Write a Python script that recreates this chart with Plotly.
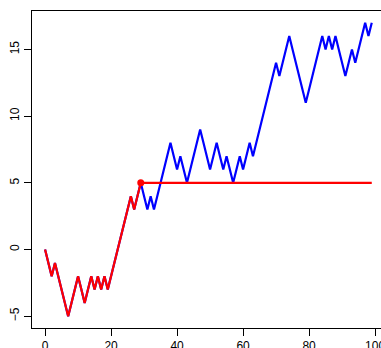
import plotly.graph_objects as go

# Data
steps = list(range(100))
walk = [0, -1, -2, -1, -2, -3, -4, -5, -4, -3,
        -2, -3, -4, -3, -2, -3, -2, -3, -2, -3,
        -2, -1, 0, 1, 2, 3, 4, 3, 4, 5,
        4, 3, 4, 3, 4, 5, 6, 7, 8, 7,
        6, 7, 6, 5, 6, 7, 8, 9, 8, 7,
        6, 7, 8, 7, 6, 7, 6, 5, 6, 7,
        6, 7, 8, 7, 8, 9, 10, 11, 12, 13,
        14, 13, 14, 15, 16, 15, 14, 13, 12, 11,
        12, 13, 14, 15, 16, 15, 16, 15, 16, 15,
        14, 13, 14, 15, 14, 15, 16, 17, 16, 17]
stopped = walk[:30] + [5] * 70
stop_x = [29]
stop_y = [5]
x_ticks = [0, 20, 40, 60, 80, 100]
y_ticks = [-5, 0, 5, 10, 15]

fig = go.Figure()
fig.add_trace(go.Scatter(x=steps, y=walk, mode="lines",
                         line=dict(color="#0000FF", width=2.2), hoverinfo="skip"))
fig.add_trace(go.Scatter(x=steps, y=stopped, mode="lines",
                         line=dict(color="#FF0000", width=2.2), hoverinfo="skip"))
fig.add_trace(go.Scatter(x=stop_x, y=stop_y, mode="markers",
                         marker=dict(color="#FF0000", size=7), hoverinfo="skip"))

axis_common = dict(showgrid=False, zeroline=False, showline=True, linecolor="black",
                   linewidth=1, ticks="outside", ticklen=7, tickcolor="black",
                   tickwidth=1, automargin=False, ticklabeloverflow="allow",
                   tickfont=dict(family="Liberation Sans, Arial", size=12, color="black"))

fig.update_layout(
    width=381, height=348,
    margin=dict(l=32, r=0, t=11, b=20),
    plot_bgcolor="white", paper_bgcolor="white",
    showlegend=False,
    xaxis=dict(range=[-3.96, 101.8], tickvals=x_ticks, mirror=True, **axis_common),
    yaxis=dict(range=[-5.88, 17.88], tickvals=y_ticks, tickangle=-90, **axis_common),
)

fig.write_html("out.html", config={"displayModeBar": False, "staticPlot": True},
               post_script="document.body.style.margin='0';document.body.style.overflow='hidden';")
